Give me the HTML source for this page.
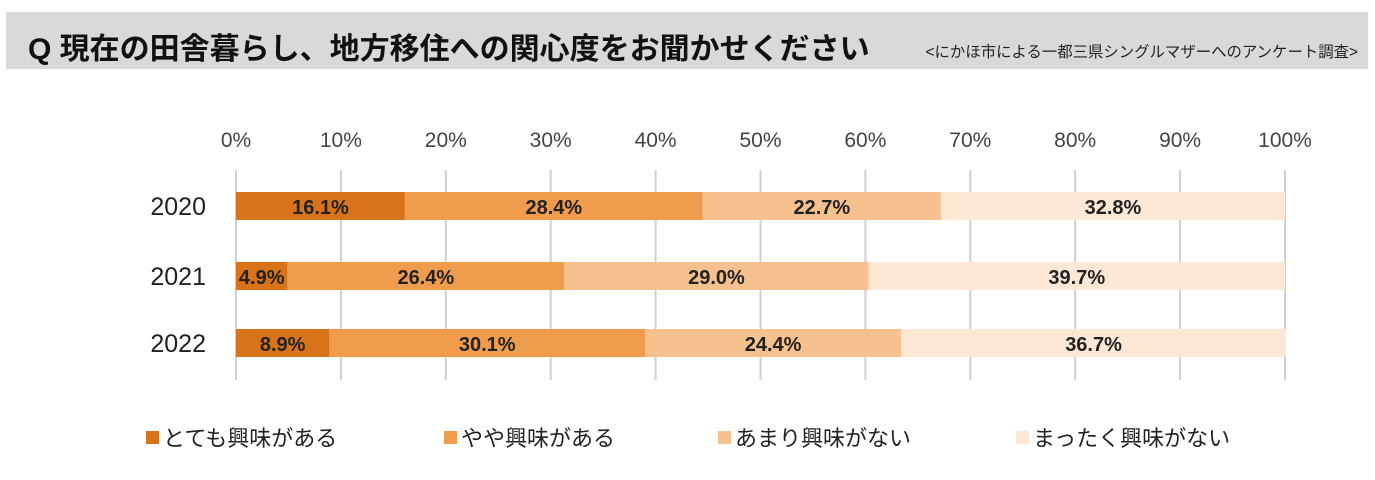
<!DOCTYPE html>
<html><head><meta charset="utf-8">
<style>
body{margin:0;width:1375px;height:480px;background:#fff;overflow:hidden;font-family:"Liberation Sans","Noto Sans CJK JP",sans-serif;}
#title-bar{position:absolute;left:6px;top:12px;width:1362px;height:57px;background:#d9d9d9;}
#title{position:absolute;left:22px;top:12px;font-size:30px;font-weight:bold;color:#111;white-space:nowrap;}
#sub{position:absolute;right:10px;top:28px;font-size:15.4px;color:#222;white-space:nowrap;}
svg{position:absolute;left:0;top:0;}
</style></head><body>
<div id="title-bar">
<div id="title">Q 現在の田舎暮らし、地方移住への関心度をお聞かせください</div>
<div id="sub">&lt;にかほ市による一都三県シングルマザーへのアンケート調査&gt;</div>
</div>
<svg id="chart" width="1375" height="480"></svg>
<script>
const years=["2020","2021","2022"];
const veryInterested=[16.1,4.9,8.9];
const somewhatInterested=[28.4,26.4,30.1];
const notVery=[22.7,29.0,24.4];
const notAtAll=[32.8,39.7,36.7];
const ticks=[0,10,20,30,40,50,60,70,80,90,100];
const seriesNames=["とても興味がある","やや興味がある","あまり興味がない","まったく興味がない"];
const colors=["#d9731a","#ef9d4d","#f5c18e","#fde8d6"];
const series=[veryInterested,somewhatInterested,notVery,notAtAll];
const svg=document.getElementById('chart');
const NS='http://www.w3.org/2000/svg';
const x=v=>236+v*10.49;
const yc=[206,276,343];
function mk(t,a){const e=document.createElementNS(NS,t);for(const k in a)e.setAttribute(k,a[k]);svg.appendChild(e);return e;}
ticks.forEach(t=>{
 const l=mk('line',{x1:x(t),x2:x(t),y1:170,y2:380,stroke:'#d0d0d0','stroke-width':2});
 
 
 const tx=mk('text',{x:x(t),y:147,'text-anchor':'middle','font-size':21,fill:'#444'});
 tx.textContent=t+'%';
 
 
});
years.forEach((yr,i)=>{
 const lb=mk('text',{x:206,y:yc[i]+9,'text-anchor':'end','font-size':25,fill:'#222'});
 lb.textContent=yr;
 
 
 let acc=0;
 series.forEach((s,j)=>{
  const v=s[i];
  const r=mk('rect',{x:x(acc),y:yc[i]-14,width:x(acc+v)-x(acc),height:28,fill:colors[j]});
  
  
  const t=mk('text',{x:(x(acc)+x(acc+v))/2,y:yc[i]+8,'text-anchor':'middle','font-size':20,'font-weight':'bold',fill:'#222'});
  t.textContent=v.toFixed(1)+'%';
  
  
  acc+=v;
 });
});
const lx=[146,444,718,1016];
seriesNames.forEach((n,j)=>{
 const r=mk('rect',{x:lx[j],y:431,width:13,height:13,fill:colors[j]});
 
 
 const t=mk('text',{x:lx[j]+17,y:446,'font-size':22,fill:'#222'});
 t.textContent=n;
 
 
});
</script>
</body></html>
